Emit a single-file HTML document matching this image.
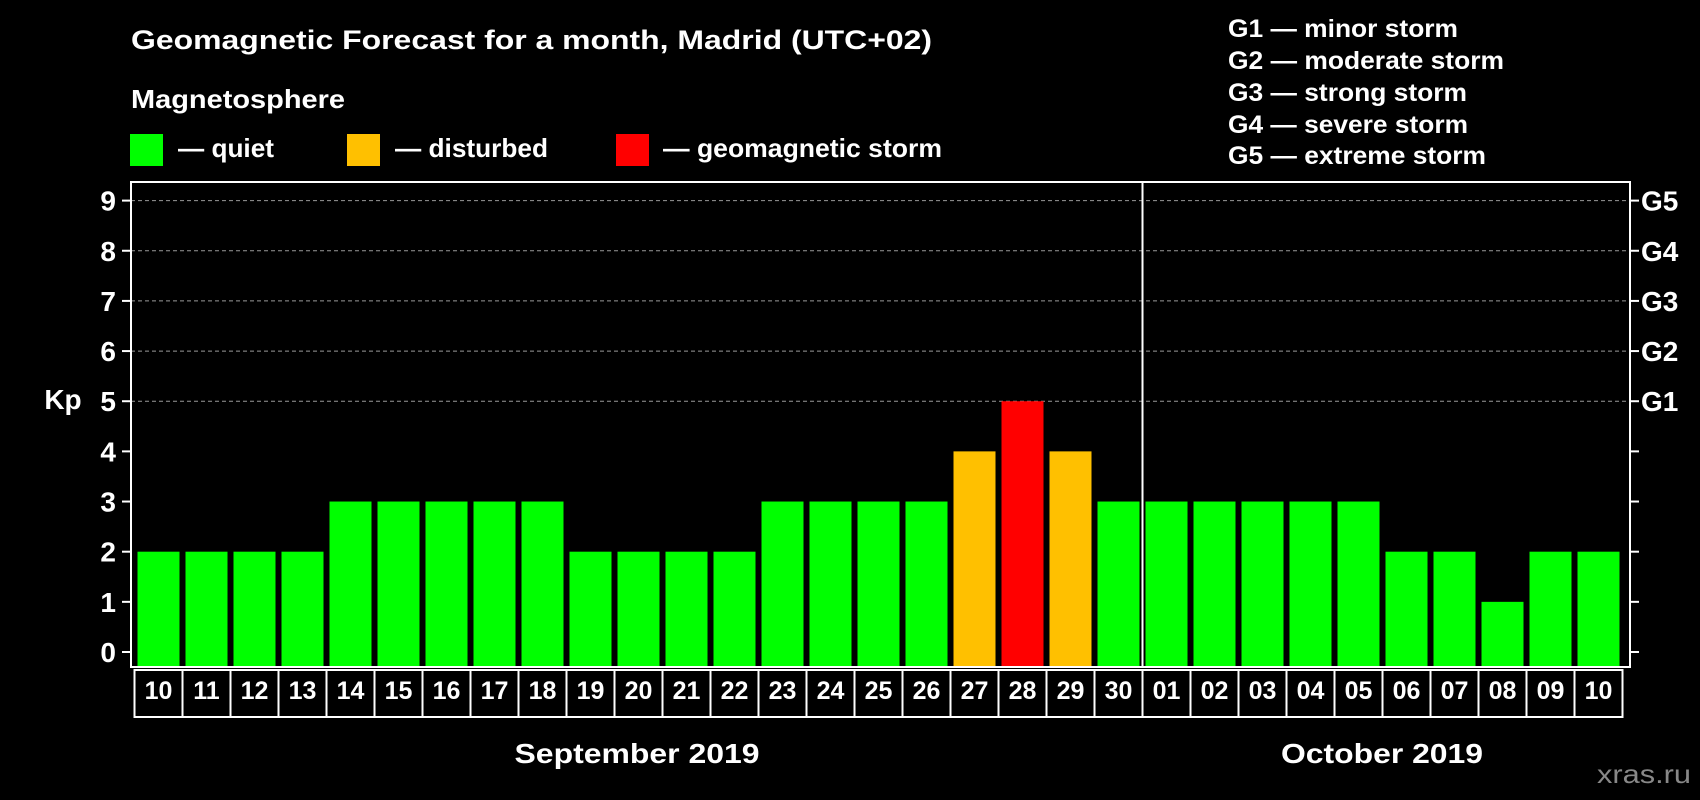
<!DOCTYPE html>
<html><head><meta charset="utf-8"><style>
html,body{margin:0;padding:0;background:#000;}
svg{display:block;font-family:"Liberation Sans",Arial,sans-serif;font-weight:bold;}
</style></head><body>
<svg id="chart" width="1700" height="800" viewBox="0 0 1700 800">
<rect width="1700" height="800" fill="#000"/>
<text x="131" y="49" fill="#fff" font-size="27" textLength="801" lengthAdjust="spacingAndGlyphs">Geomagnetic Forecast for a month, Madrid (UTC+02)</text>
<text x="131" y="108" fill="#fff" font-size="26" textLength="214" lengthAdjust="spacingAndGlyphs">Magnetosphere</text>
<g><rect x="130" y="134" width="33" height="32" fill="#00ff00"/><text x="178" y="157" fill="#fff" font-size="26" textLength="96" lengthAdjust="spacingAndGlyphs">— quiet</text></g>
<g><rect x="347" y="134" width="33" height="32" fill="#ffc000"/><text x="395" y="157" fill="#fff" font-size="26" textLength="153" lengthAdjust="spacingAndGlyphs">— disturbed</text></g>
<g><rect x="616" y="134" width="33" height="32" fill="#ff0000"/><text x="663" y="157" fill="#fff" font-size="26" textLength="279" lengthAdjust="spacingAndGlyphs">— geomagnetic storm</text></g>
<g fill="#fff" font-size="25">
<text x="1228" y="37" textLength="230" lengthAdjust="spacingAndGlyphs">G1 — minor storm</text>
<text x="1228" y="69" textLength="276" lengthAdjust="spacingAndGlyphs">G2 — moderate storm</text>
<text x="1228" y="101" textLength="239" lengthAdjust="spacingAndGlyphs">G3 — strong storm</text>
<text x="1228" y="133" textLength="240" lengthAdjust="spacingAndGlyphs">G4 — severe storm</text>
<text x="1228" y="164" textLength="258" lengthAdjust="spacingAndGlyphs">G5 — extreme storm</text>
</g>
<text x="63" y="409" fill="#fff" font-size="28" text-anchor="middle">Kp</text>
<g id="grid"></g>
<g id="bars"></g>
<g id="xlabels"></g>
<rect x="131" y="182" width="1499" height="485" fill="none" stroke="#fff" stroke-width="2"/>
<line x1="1142.5" y1="182" x2="1142.5" y2="667" stroke="#fff" stroke-width="2"/>
<text x="637" y="763" fill="#fff" font-size="28" text-anchor="middle" textLength="245" lengthAdjust="spacingAndGlyphs">September 2019</text>
<text x="1382" y="763" fill="#fff" font-size="28" text-anchor="middle" textLength="202" lengthAdjust="spacingAndGlyphs">October 2019</text>
<text x="1597" y="783" fill="#888" font-size="26" font-weight="normal" textLength="94" lengthAdjust="spacingAndGlyphs">xras.ru</text>
</svg>
<script>
const sepDays=["10","11","12","13","14","15","16","17","18","19","20","21","22","23","24","25","26","27","28","29","30"];
const octDays=["01","02","03","04","05","06","07","08","09","10"];
const sepKp=[2,2,2,2,3,3,3,3,3,2,2,2,2,3,3,3,3,4,5,4,3];
const octKp=[3,3,3,3,3,2,2,1,2,2];
const yTicks=[0,1,2,3,4,5,6,7,8,9];
const gLabels=["G1","G2","G3","G4","G5"];
const gLevels=[5,6,7,8,9];

const NS="http://www.w3.org/2000/svg";
const y0=652, yUnit=(652-200.6)/9;
function y(v){return y0-v*yUnit;}
const cellStart=134.5, pitch=48;
function mk(tag,attrs,parent){const e=document.createElementNS(NS,tag);for(const k in attrs)e.setAttribute(k,attrs[k]);parent.appendChild(e);return e;}
function color(v){return v>=5?"#ff0000":(v>=4?"#ffc000":"#00ff00");}

const grid=document.getElementById("grid");
yTicks.forEach(t=>{
  const yy=y(t);
  const tk=mk("line",{x1:122,x2:131,y1:yy,y2:yy,stroke:"#fff","stroke-width":2},grid);
  
  
  const tr=mk("line",{x1:1630,x2:1639,y1:yy,y2:yy,stroke:"#fff","stroke-width":2},grid);
  
  
  const lb=mk("text",{x:116,y:yy+10,fill:"#fff","font-size":28,"text-anchor":"end"},grid);
  lb.textContent=t;
  
  
});
gLevels.forEach((lv,i)=>{
  const yy=y(lv);
  const gl=mk("line",{x1:131,x2:1630,y1:yy,y2:yy,stroke:"#999","stroke-width":1,"stroke-dasharray":"4,3"},grid);
  
  
  const lb=mk("text",{x:1641,y:yy+10,fill:"#fff","font-size":28},grid);
  lb.textContent=gLabels[i];
  
  
});

const bars=document.getElementById("bars"), xl=document.getElementById("xlabels");
function drawMonth(days,vals,offset,prefix){
  days.forEach((d,i)=>{
    const x=cellStart+(offset+i)*pitch, v=vals[i];
    const r=mk("rect",{x:x+3,y:y(v),width:pitch-6,height:666-y(v),fill:color(v)},bars);
    
    
    const c=mk("rect",{x:x,y:670,width:pitch,height:47,fill:"none",stroke:"#fff","stroke-width":2},xl);
    
    
    const t=mk("text",{x:x+pitch/2,y:699,fill:"#fff","font-size":25,"text-anchor":"middle"},xl);
    t.textContent=d;
    
    
  });
}
drawMonth(sepDays,sepKp,0,"sep");
drawMonth(octDays,octKp,sepDays.length,"oct");
</script>
</body></html>
